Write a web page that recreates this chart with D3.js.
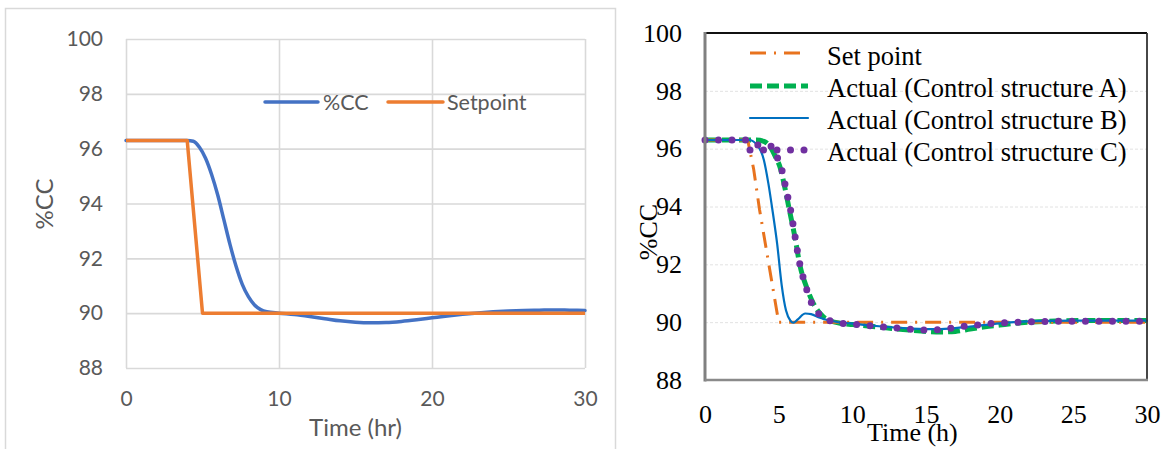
<!DOCTYPE html>
<html>
<head>
<meta charset="utf-8">
<script src="https://cdn.jsdelivr.net/npm/d3@7/dist/d3.min.js"></script>
<style>
  html, body { margin: 0; padding: 0; background: #fff; }
  svg { display: block; }
</style>
</head>
<body>
<svg id="chart" width="1167" height="449"></svg>
<script>
// ---------- Left panel: %CC response vs. setpoint ----------
const leftXTicks = [0, 10, 20, 30];
const leftYTicks = [88, 90, 92, 94, 96, 98, 100];

const leftTime   = [0, 4, 4.4, 4.8, 5.2, 5.6, 6.0, 6.4, 6.8, 7.2, 7.6, 8.0, 8.4, 8.8, 9.2, 10, 11, 12, 13, 14, 15, 16, 17, 18, 19, 20, 21, 22, 23, 24, 25, 26, 27, 28, 29, 30];
const leftCC     = [96.3, 96.3, 96.27, 96.05, 95.65, 95.05, 94.3, 93.4, 92.5, 91.7, 91.05, 90.6, 90.3, 90.13, 90.05, 90.0, 89.95, 89.88, 89.8, 89.72, 89.67, 89.65, 89.66, 89.7, 89.76, 89.83, 89.9, 89.96, 90.01, 90.05, 90.08, 90.1, 90.11, 90.12, 90.11, 90.1];

const spTime     = [0, 4, 5, 30];
const spValue    = [96.3, 96.3, 90.0, 90.0];

// ---------- Right panel: three control structures ----------
const rightXTicks = [0, 5, 10, 15, 20, 25, 30];
const rightYTicks = [88, 90, 92, 94, 96, 98, 100];
const rightGrid   = [90, 92, 94, 96, 98];

const setTime  = [0, 2.9, 3.3, 3.7, 4.2, 4.7, 5.0, 30];
const setValue = [96.3, 96.3, 95.3, 93.9, 92.4, 90.9, 90.0, 90.0];

const aTime  = [0, 3.5, 4, 4.4, 4.8, 5.1, 5.4, 5.7, 6.1, 6.45, 6.9, 7.35, 8.0, 8.5, 9.2, 10, 12, 14, 15, 16, 17, 18, 19, 20, 21, 22, 24, 26, 30];
const aValue = [96.3, 96.3, 96.25, 96.08, 95.7, 95.35, 94.7, 93.95, 92.95, 91.95, 91.2, 90.65, 90.2, 90.05, 89.96, 89.92, 89.82, 89.72, 89.68, 89.66, 89.68, 89.76, 89.84, 89.9, 89.96, 90.0, 90.04, 90.06, 90.06];

const bTime  = [0, 3, 3.5, 4, 4.3, 4.6, 4.9, 5.2, 5.5, 5.8, 6.0, 6.3, 6.8, 7.2, 7.8, 8.5, 10, 12, 14, 16, 18, 20, 22, 25, 30];
const bValue = [96.3, 96.3, 96.15, 95.6, 94.8, 93.8, 92.7, 91.3, 90.4, 90.05, 89.98, 90.1, 90.3, 90.28, 90.15, 90.05, 89.95, 89.85, 89.78, 89.76, 89.85, 89.96, 90.03, 90.05, 90.05];

const cTime  = [0, 2.9, 3.3, 3.8, 4.4, 4.9, 5.2, 5.5, 5.8, 6.1, 6.4, 6.8, 7.2, 7.8, 8.5, 9.2, 10, 12, 13.6, 14.5, 15.5, 16.5, 17.5, 18.5, 19.3, 20.3, 21.3, 22.3, 24, 30];
const cValue = [96.3, 96.3, 96.2, 96.1, 96.1, 95.7, 95.3, 94.6, 93.9, 93.0, 92.1, 91.3, 90.7, 90.25, 90.05, 89.97, 89.93, 89.84, 89.77, 89.73, 89.73, 89.78, 89.85, 89.9, 89.95, 89.98, 90.0, 90.02, 90.03, 90.03];

const zip = (t, v) => t.map((d, i) => ({ t: d, v: v[i] }));

const svg = d3.select("#chart");

// ================= LEFT PANEL =================
const L = svg.append("g").attr("class", "left-panel");

// chart area frame
L.append("rect")
  .attr("x", 5.5).attr("y", 8.5).attr("width", 610).attr("height", 460)
  .attr("fill", "#fff").attr("stroke", "#d9d9d9").attr("stroke-width", 1.5);

const xL = d3.scaleLinear().domain([0, 30]).range([126, 585]);
const yL = d3.scaleLinear().domain([88, 100]).range([368, 39]);
const fontL = "Lato, 'Open Sans', sans-serif";
const grayText = "#595959";

// gridlines
L.append("g")
  .attr("transform", `translate(${xL(0)},0)`)
  .call(d3.axisLeft(yL).tickValues(leftYTicks).tickSize(-(xL(30) - xL(0))).tickFormat(""))
  .call(g => g.select(".domain").remove())
  .call(g => g.selectAll("line").attr("stroke", "#d9d9d9").attr("stroke-width", 1.6));
L.append("g")
  .attr("transform", `translate(0,${yL(88)})`)
  .call(d3.axisBottom(xL).tickValues(leftXTicks).tickSize(-(yL(88) - yL(100))).tickFormat(""))
  .call(g => g.select(".domain").remove())
  .call(g => g.selectAll("line").attr("stroke", "#d9d9d9").attr("stroke-width", 1.6));

// tick labels
L.append("g")
  .attr("transform", `translate(${xL(0)},0)`)
  .call(d3.axisLeft(yL).tickValues(leftYTicks).tickSize(0).tickPadding(23))
  .call(g => g.select(".domain").remove())
  .call(g => g.selectAll("text").attr("fill", grayText).style("font-family", fontL).style("font-size", "21px"));
L.append("g")
  .attr("transform", `translate(0,${yL(88)})`)
  .call(d3.axisBottom(xL).tickValues(leftXTicks).tickSize(0).tickPadding(23))
  .call(g => g.select(".domain").remove())
  .call(g => g.selectAll("text").attr("fill", grayText).style("font-family", fontL).style("font-size", "21px"));

// axis titles
L.append("text")
  .attr("x", (xL(0) + xL(30)) / 2).attr("y", 436)
  .attr("text-anchor", "middle").attr("fill", grayText)
  .style("font-family", fontL).style("font-size", "24px")
  .text("Time (hr)");
L.append("text")
  .attr("transform", "translate(53,204) rotate(-90)")
  .attr("text-anchor", "middle").attr("fill", grayText)
  .style("font-family", fontL).style("font-size", "24px")
  .text("%CC");

// series
L.append("path")
  .datum(zip(leftTime, leftCC))
  .attr("d", d3.line().x(d => xL(d.t)).y(d => yL(d.v)).curve(d3.curveMonotoneX))
  .attr("fill", "none").attr("stroke", "#4472C4").attr("stroke-width", 3.5).attr("stroke-linecap", "round");
L.append("path")
  .datum(zip(spTime, spValue))
  .attr("d", d3.line().x(d => xL(d.t)).y(d => yL(d.v)))
  .attr("fill", "none").attr("stroke", "#ED7D31").attr("stroke-width", 3.5).attr("stroke-linejoin", "round");

// legend
const legL = [
  { name: "%CC", color: "#4472C4", x1: 265, x2: 318, tx: 323 },
  { name: "Setpoint", color: "#ED7D31", x1: 388, x2: 443, tx: 447 }
];
legL.forEach(d => {
  L.append("line").attr("x1", d.x1).attr("x2", d.x2).attr("y1", 102).attr("y2", 102)
    .attr("stroke", d.color).attr("stroke-width", 3.5).attr("stroke-linecap", "round");
  L.append("text").attr("x", d.tx).attr("y", 102).attr("dy", "0.35em")
    .attr("fill", grayText).style("font-family", fontL).style("font-size", "21.5px").text(d.name);
});

// ================= RIGHT PANEL =================
const R = svg.append("g").attr("class", "right-panel");
const xR = d3.scaleLinear().domain([0, 30]).range([705, 1147]);
const yR = d3.scaleLinear().domain([88, 100]).range([380, 33]);
const fontR = "'Liberation Serif', 'Times New Roman', serif";

// faint dotted gridlines
R.append("g")
  .attr("transform", `translate(${xR(0)},0)`)
  .call(d3.axisLeft(yR).tickValues(rightGrid).tickSize(-(xR(30) - xR(0))).tickFormat(""))
  .call(g => g.select(".domain").remove())
  .call(g => g.selectAll("line").attr("stroke", "#e2e2e2").attr("stroke-width", 1).attr("stroke-dasharray", "3,2"));

// tick labels
R.append("g")
  .attr("transform", `translate(${xR(0)},0)`)
  .call(d3.axisLeft(yR).tickValues(rightYTicks).tickSize(0).tickPadding(23))
  .call(g => g.select(".domain").remove())
  .call(g => g.selectAll("text").attr("fill", "#000").style("font-family", fontR).style("font-size", "26px"));
R.append("g")
  .attr("transform", `translate(0,${yR(88)})`)
  .call(d3.axisBottom(xR).tickValues(rightXTicks).tickSize(0).tickPadding(25))
  .call(g => g.select(".domain").remove())
  .call(g => g.selectAll("text").attr("fill", "#000").style("font-family", fontR).style("font-size", "26px"));

// axis titles
R.append("text")
  .attr("x", 867).attr("y", 441)
  .attr("fill", "#000").style("font-family", fontR).style("font-size", "26px")
  .text("Time (h)");
R.append("text")
  .attr("transform", "translate(657,232) rotate(-90)")
  .attr("text-anchor", "middle").attr("fill", "#000")
  .style("font-family", fontR).style("font-size", "26px")
  .text("%CC");

// series
const lineR = d3.line().x(d => xR(d.t)).y(d => yR(d.v)).curve(d3.curveMonotoneX);
const styles = {
  set: { color: "#E8731E", width: 3, dash: "16,8,2,8", cap: "butt" },
  a:   { color: "#00B050", width: 5, dash: "12,5", cap: "butt" },
  b:   { color: "#0070C0", width: 2.2, dash: null, cap: "round" },
  c:   { color: "#7030A0", width: 7, dash: "0,13.5", cap: "round" }
};
const seriesR = [
  { key: "a", data: zip(aTime, aValue) },
  { key: "set", data: zip(setTime, setValue) },
  { key: "b", data: zip(bTime, bValue) },
  { key: "c", data: zip(cTime, cValue) }
];
seriesR.forEach(s => {
  const st = styles[s.key];
  R.append("path").datum(s.data)
    .attr("d", s.key === "set" ? d3.line().x(d => xR(d.t)).y(d => yR(d.v)) : lineR)
    .attr("fill", "none").attr("stroke", st.color).attr("stroke-width", st.width)
    .attr("stroke-dasharray", st.dash).attr("stroke-linecap", st.cap);
});

// plot frame: shaded left/bottom, dark top/right
R.append("line").attr("x1", xR(0)).attr("x2", xR(30)).attr("y1", yR(100)).attr("y2", yR(100))
  .attr("stroke", "#111").attr("stroke-width", 1.8);
R.append("line").attr("x1", xR(30)).attr("x2", xR(30)).attr("y1", yR(100)).attr("y2", yR(88))
  .attr("stroke", "#333").attr("stroke-width", 1.8);
R.append("line").attr("x1", xR(0)).attr("x2", xR(0)).attr("y1", yR(100) - 1).attr("y2", yR(88) + 1.5)
  .attr("stroke", "#808080").attr("stroke-width", 3);
R.append("line").attr("x1", xR(0)).attr("x2", xR(30) + 1).attr("y1", yR(88)).attr("y2", yR(88))
  .attr("stroke", "#8a8a8a").attr("stroke-width", 2.6);

// legend
const legR = [
  { key: "set", name: "Set point", y: 53, by: 65 },
  { key: "a", name: "Actual (Control structure A)", y: 86, by: 97 },
  { key: "b", name: "Actual (Control structure B)", y: 118, by: 129 },
  { key: "c", name: "Actual (Control structure C)", y: 150, by: 161 }
];
legR.forEach(d => {
  const st = styles[d.key];
  R.append("line").attr("x1", 750).attr("x2", 808).attr("y1", d.y).attr("y2", d.y)
    .attr("stroke", st.color).attr("stroke-width", st.width)
    .attr("stroke-dasharray", st.dash).attr("stroke-linecap", st.cap);
  R.append("text").attr("x", 827).attr("y", d.by)
    .attr("fill", "#000").style("font-family", fontR).style("font-size", "26.5px").text(d.name);
});
</script>
</body>
</html>
